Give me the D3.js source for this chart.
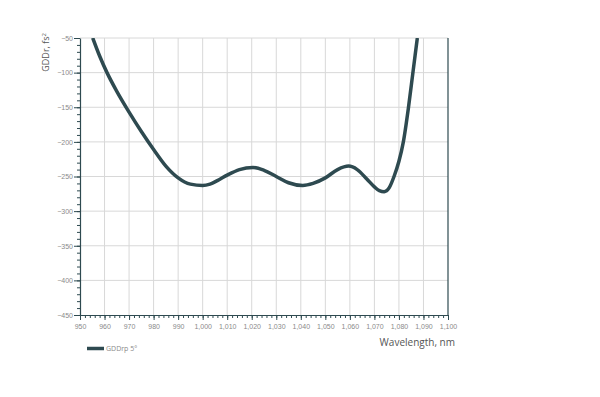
<!DOCTYPE html>
<html>
<head>
<meta charset="utf-8">
<script src="https://cdn.jsdelivr.net/npm/d3@7"></script>
<style>
  body { margin: 0; background: #fff; }
  svg { display: block; font-family: "Open Sans", sans-serif; }
</style>
</head>
<body>
<svg width="600" height="397"></svg>
<script>
// data
const wavelength = [955.2, 958, 961, 965, 970, 975, 980, 985, 990, 995, 1000, 1003, 1006, 1010,
  1015, 1020.5, 1025, 1030, 1035, 1040.8, 1045, 1050, 1055, 1059.5, 1063, 1067, 1070, 1072,
  1074, 1076, 1078, 1080, 1081.8, 1083.9, 1085.7, 1087.5];
const gdd = [-50, -76, -100, -127, -157, -185, -211, -235, -252, -261, -263, -261, -256, -248,
  -240, -237, -241, -250, -259, -263, -260, -252, -240, -235, -240, -254, -265, -270.5,
  -272, -266.5, -250, -228, -200, -150, -100, -50];
const seriesName = 'GDDrp 5°';
const xTitle = 'Wavelength, nm';
const yTitle = 'GDDr, fs';

const svg = d3.select('svg');
const pLeft = 80, pRight = 448, pTop = 38, pBottom = 315;
const lineColor = '#2e4a50';

const x = d3.scaleLinear().domain([950, 1100]).range([pLeft, pRight]);
const y = d3.scaleLinear().domain([-450, -50]).range([pBottom, pTop]);

// grid
svg.append('g')
  .selectAll('line')
  .data(d3.range(960, 1100, 10))
  .join('line')
  .attr('x1', d => x(d)).attr('x2', d => x(d))
  .attr('y1', pTop).attr('y2', pBottom)
  .attr('stroke', '#d8d8d8').attr('stroke-width', 1);

svg.append('g')
  .selectAll('line')
  .data(d3.range(-400, -40, 50))
  .join('line')
  .attr('x1', pLeft).attr('x2', pRight)
  .attr('y1', d => y(d)).attr('y2', d => y(d))
  .attr('stroke', '#d8d8d8').attr('stroke-width', 1);

// right border
svg.append('line')
  .attr('x1', pRight).attr('x2', pRight).attr('y1', pTop).attr('y2', pBottom)
  .attr('stroke', lineColor).attr('stroke-width', 1.2);

// minor ticks
svg.append('g')
  .attr('transform', `translate(0,${pBottom})`)
  .call(d3.axisBottom(x).tickValues(d3.range(950, 1101, 2)).tickSize(3).tickFormat(''))
  .call(g => g.select('.domain').remove())
  .call(g => g.selectAll('line').attr('stroke', lineColor));

svg.append('g')
  .attr('transform', `translate(${pLeft},0)`)
  .call(d3.axisLeft(y).tickValues(d3.range(-450, -49, 10)).tickSize(3).tickFormat(''))
  .call(g => g.select('.domain').remove())
  .call(g => g.selectAll('line').attr('stroke', lineColor));

// major axes
const xAxis = svg.append('g')
  .attr('transform', `translate(0,${pBottom})`)
  .call(d3.axisBottom(x).tickValues(d3.range(950, 1101, 10)).tickSize(5).tickSizeOuter(0)
    .tickPadding(4).tickFormat(d3.format(',')));

const yAxis = svg.append('g')
  .attr('transform', `translate(${pLeft},0)`)
  .call(d3.axisLeft(y).tickValues(d3.range(-450, -49, 50)).tickSize(6).tickSizeOuter(0)
    .tickPadding(1).tickFormat(d3.format('d')));

[xAxis, yAxis].forEach(g => {
  g.select('.domain').attr('stroke', lineColor).attr('stroke-width', 1.2);
  g.selectAll('.tick line').attr('stroke', lineColor);
  g.selectAll('.tick text').attr('fill', '#8a8a8a').style('font-size', '7px');
});

// curve
svg.append('clipPath').attr('id', 'plot')
  .append('rect').attr('x', pLeft).attr('y', pTop).attr('width', pRight - pLeft).attr('height', pBottom - pTop);

const pts = wavelength.map((w, i) => [w, gdd[i]]);
svg.append('path')
  .datum(pts)
  .attr('clip-path', 'url(#plot)')
  .attr('fill', 'none')
  .attr('stroke', lineColor)
  .attr('stroke-width', 3.5)
  .attr('stroke-linejoin', 'round')
  .attr('d', d3.line().x(d => x(d[0])).y(d => y(d[1])).curve(d3.curveMonotoneX));

// titles
const yt = svg.append('text')
  .attr('transform', `translate(49,33) rotate(-90)`)
  .attr('text-anchor', 'end')
  .attr('fill', '#555')
  .style('font-size', '9px')
  .text(yTitle);
yt.append('tspan').attr('dy', -3).style('font-size', '6px').text('2');

svg.append('text')
  .attr('x', 455).attr('y', 346)
  .attr('text-anchor', 'end')
  .attr('fill', '#555')
  .style('font-size', '10px')
  .text(xTitle);

// legend
svg.append('line')
  .attr('x1', 87).attr('x2', 104).attr('y1', 348.5).attr('y2', 348.5)
  .attr('stroke', lineColor).attr('stroke-width', 3.5);
svg.append('text')
  .attr('x', 106).attr('y', 351)
  .attr('fill', '#8a8a8a')
  .style('font-size', '7px')
  .text(seriesName);
</script>
</body>
</html>
